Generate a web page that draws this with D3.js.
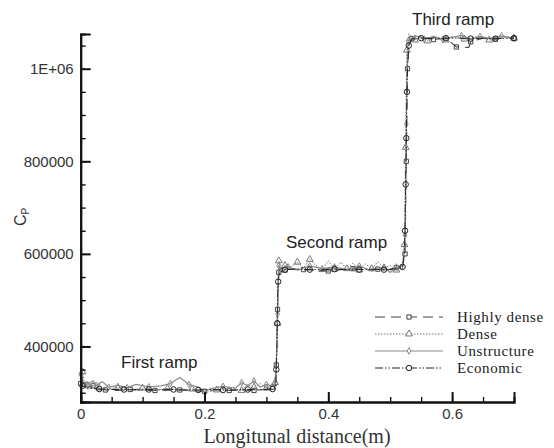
<!DOCTYPE html>
<html>
<head>
<meta charset="utf-8">
<script src="https://cdn.jsdelivr.net/npm/d3@7"></script>
<style>
  body { margin: 0; background: #fff; }
  svg { display: block; }
</style>
</head>
<body>
<svg id="chart" width="554" height="448"></svg>
<script>
// values: [x in m, Cp]
const xTicks = [0, 0.2, 0.4, 0.6]
const yTicks = [400000, 600000, 800000, 1000000]
const seriesNames = ['Highly dense', 'Dense', 'Unstructure', 'Economic']
const rampLabels = ['First ramp', 'Second ramp', 'Third ramp']

const highlyDense = [
  [0, 320000], [0.002, 335000], [0.005, 318000], [0.01, 312000], [0.02, 315000],
  [0.03, 308000], [0.04, 306000], [0.06, 305000], [0.08, 307000], [0.1, 306000],
  [0.12, 305000], [0.14, 308000], [0.16, 306000], [0.18, 305000], [0.2, 303000],
  [0.22, 307000], [0.24, 305000], [0.26, 306000], [0.28, 305000], [0.3, 308000],
  [0.31, 312000], [0.314, 318000],
  [0.316, 360000], [0.317, 420000], [0.318, 480000], [0.319, 530000], [0.32, 560000],
  [0.322, 570000], [0.33, 565000], [0.34, 568000], [0.36, 566000], [0.38, 565000],
  [0.4, 563000], [0.42, 566000], [0.44, 568000], [0.46, 565000], [0.48, 567000],
  [0.5, 566000], [0.51, 570000], [0.52, 575000],
  [0.524, 600000], [0.525, 700000], [0.526, 800000], [0.527, 900000], [0.528, 1000000],
  [0.53, 1050000], [0.535, 1065000], [0.55, 1068000], [0.57, 1063000], [0.59, 1066000],
  [0.607, 1047000], [0.627, 1046000], [0.63, 1058000], [0.65, 1066000], [0.67, 1064000],
  [0.69, 1067000], [0.7, 1065000]
]

const dense = [
  [0, 330000], [0.003, 345000], [0.006, 320000], [0.012, 315000], [0.02, 322000],
  [0.03, 310000], [0.045, 308000], [0.06, 312000], [0.08, 306000], [0.1, 310000],
  [0.12, 306000], [0.14, 309000], [0.16, 305000], [0.18, 308000], [0.2, 300000],
  [0.22, 306000], [0.24, 310000], [0.26, 305000], [0.27, 318000], [0.28, 312000],
  [0.29, 320000], [0.3, 310000], [0.31, 316000], [0.314, 322000],
  [0.316, 380000], [0.318, 450000], [0.319, 520000], [0.32, 585000], [0.323, 565000],
  [0.33, 575000], [0.34, 572000], [0.35, 582000], [0.36, 570000], [0.37, 588000],
  [0.38, 575000], [0.39, 566000], [0.4, 585000], [0.41, 567000], [0.42, 582000],
  [0.43, 568000], [0.44, 580000], [0.45, 565000], [0.46, 578000], [0.47, 568000],
  [0.48, 583000], [0.49, 570000], [0.5, 575000], [0.51, 565000], [0.52, 578000],
  [0.523, 620000], [0.524, 720000], [0.525, 830000], [0.526, 950000], [0.527, 1040000],
  [0.53, 1075000], [0.54, 1062000], [0.55, 1070000], [0.56, 1060000], [0.575, 1068000],
  [0.59, 1062000], [0.6, 1070000], [0.62, 1064000], [0.64, 1069000], [0.66, 1062000],
  [0.68, 1068000], [0.7, 1066000]
]

const unstructure = [
  [0, 340000], [0.004, 322000], [0.01, 318000], [0.02, 326000], [0.025, 316000],
  [0.035, 324000], [0.045, 312000], [0.06, 316000], [0.075, 311000], [0.09, 318000],
  [0.11, 313000], [0.13, 315000], [0.145, 320000], [0.16, 333000], [0.175, 318000],
  [0.19, 312000], [0.2, 302000], [0.21, 309000], [0.23, 314000], [0.25, 310000],
  [0.26, 322000], [0.27, 315000], [0.28, 326000], [0.29, 312000], [0.3, 318000],
  [0.31, 314000], [0.315, 320000],
  [0.317, 400000], [0.318, 470000], [0.319, 540000], [0.32, 575000], [0.325, 560000],
  [0.335, 572000], [0.35, 565000], [0.37, 574000], [0.39, 568000], [0.41, 572000],
  [0.43, 566000], [0.45, 574000], [0.47, 563000], [0.49, 570000], [0.5, 560000],
  [0.51, 572000], [0.52, 566000],
  [0.524, 640000], [0.525, 760000], [0.526, 880000], [0.527, 990000], [0.529, 1060000],
  [0.54, 1072000], [0.555, 1064000], [0.57, 1070000], [0.585, 1063000], [0.6, 1068000],
  [0.615, 1072000], [0.63, 1064000], [0.645, 1070000], [0.66, 1065000], [0.68, 1071000],
  [0.7, 1066000]
]

const economic = [
  [0, 325000], [0.003, 315000], [0.01, 310000], [0.03, 308000], [0.05, 307000],
  [0.07, 307000], [0.09, 306000], [0.11, 307000], [0.13, 306000], [0.15, 307000],
  [0.17, 306000], [0.19, 306000], [0.21, 307000], [0.23, 306000], [0.25, 306000],
  [0.27, 307000], [0.29, 306000], [0.31, 308000], [0.315, 312000],
  [0.316, 350000], [0.317, 400000], [0.3175, 450000], [0.318, 500000], [0.319, 540000],
  [0.321, 560000], [0.33, 566000], [0.35, 567000], [0.37, 566000], [0.39, 566000],
  [0.41, 567000], [0.43, 566000], [0.45, 566000], [0.47, 567000], [0.49, 566000],
  [0.51, 568000], [0.52, 572000],
  [0.523, 600000], [0.524, 650000], [0.5245, 700000], [0.525, 750000], [0.5255, 800000],
  [0.526, 850000], [0.5265, 900000], [0.527, 950000], [0.528, 1000000], [0.53, 1050000],
  [0.535, 1064000], [0.55, 1066000], [0.57, 1065000], [0.59, 1066000], [0.61, 1066000],
  [0.63, 1065000], [0.65, 1066000], [0.67, 1065000], [0.69, 1066000], [0.7, 1066000]
]

window.addEventListener('load', makeChart)

function makeChart() {
  const svg = d3.select('#chart')

  const scX = d3.scaleLinear().domain([0, 0.7]).range([80.7, 514])
  const scY = d3.scaleLinear().domain([280000, 1075000]).range([402, 34])

  const styles = [
    { color: '#444', dash: '10,6', width: 1.1, symbol: d3.symbolSquare, size: 18 },
    { color: '#777', dash: '1.5,1.5', width: 1, symbol: d3.symbolTriangle, size: 20 },
    { color: '#8a8a8a', dash: null, width: 1.2, symbol: d3.symbolDiamond, size: 12 },
    { color: '#222', dash: '8,2,1.5,2,1.5,2', width: 1, symbol: d3.symbolCircle, size: 24 },
  ]
  const allSeries = [highlyDense, dense, unstructure, economic]

  const line = d3
    .line()
    .x((d) => scX(d[0]))
    .y((d) => scY(d[1]))

  allSeries.forEach((data, k) => {
    const st = styles[k]
    svg
      .append('path')
      .datum(data)
      .attr('d', line)
      .attr('fill', 'none')
      .attr('stroke', st.color)
      .attr('stroke-width', st.width)
      .attr('stroke-dasharray', st.dash)

    svg
      .append('g')
      .selectAll('path')
      .data(data.filter((d, i) => i % 2 === k % 2))
      .enter()
      .append('path')
      .attr('d', d3.symbol().type(st.symbol).size(st.size))
      .attr('transform', (d) => `translate(${scX(d[0])},${scY(d[1])})`)
      .attr('fill', 'none')
      .attr('stroke', st.color)
      .attr('stroke-width', 1)
  })

  // axes, ticks point inward
  const fmtY = (d) => (d >= 1000000 ? '1E+06' : d3.format('d')(d))

  const axY = svg.append('g').attr('transform', 'translate(80.7,0)')
  axY
    .call(d3.axisLeft(scY).tickValues(d3.range(300000, 1075000, 50000)).tickSize(-5).tickFormat(''))
  axY.call((g) => g.selectAll('.tick line').attr('stroke-width', 1.3))
  const axY2 = svg.append('g').attr('transform', 'translate(80.7,0)')
  axY2.call(d3.axisLeft(scY).tickValues(yTicks).tickSize(-10).tickPadding(7).tickFormat(fmtY))

  const axX = svg.append('g').attr('transform', 'translate(0,402)')
  axX.call(d3.axisBottom(scX).tickValues(d3.range(0.05, 0.7, 0.05)).tickSize(-5).tickFormat(''))
  axX.call((g) => g.selectAll('.tick line').attr('stroke-width', 1.3))
  const axX2 = svg.append('g').attr('transform', 'translate(0,402)')
  axX2.call(d3.axisBottom(scX).tickValues(xTicks).tickSize(-10).tickPadding(6).tickFormat(d3.format('')))

  svg.selectAll('.domain').attr('stroke', '#111').attr('stroke-width', 2)
  axY2.selectAll('.tick line').attr('stroke', '#111').attr('stroke-width', 2)
  axX2.selectAll('.tick line').attr('stroke', '#111').attr('stroke-width', 2)
  svg
    .selectAll('.tick text')
    .attr('font-family', 'Liberation Sans, Arial, sans-serif')
    .attr('font-size', 15)
    .attr('fill', '#333')

  // axis titles
  svg
    .append('text')
    .attr('x', 297)
    .attr('y', 443)
    .attr('text-anchor', 'middle')
    .attr('font-family', 'Liberation Serif, serif')
    .attr('font-size', 20)
    .attr('fill', '#333')
    .text('Longitunal distance(m)')

  const yl = svg
    .append('text')
    .attr('transform', 'translate(26,226) rotate(-90)')
    .attr('font-family', 'Liberation Sans, Arial, sans-serif')
    .attr('font-size', 16)
    .attr('fill', '#333')
  yl.append('tspan').text('C')
  yl.append('tspan').attr('font-size', 10).attr('dy', 3).text('P')

  // ramp labels
  const rampPos = [
    [121, 368],
    [286, 248],
    [412, 25],
  ]
  svg
    .selectAll('text.ramp')
    .data(rampLabels)
    .enter()
    .append('text')
    .attr('class', 'ramp')
    .attr('x', (d, i) => rampPos[i][0])
    .attr('y', (d, i) => rampPos[i][1])
    .attr('font-family', 'Liberation Sans, Arial, sans-serif')
    .attr('font-size', 17)
    .attr('fill', '#222')
    .text((d) => d)

  // legend
  const lg = svg
    .append('g')
    .selectAll('g')
    .data(seriesNames)
    .enter()
    .append('g')
    .attr('transform', (d, i) => `translate(0,${317 + i * 17})`)

  lg.append('line')
    .attr('x1', 375)
    .attr('x2', 443)
    .attr('stroke', (d, i) => styles[i].color)
    .attr('stroke-width', (d, i) => styles[i].width)
    .attr('stroke-dasharray', (d, i) => styles[i].dash)
  lg.append('path')
    .attr('transform', 'translate(409,0)')
    .attr('d', (d, i) => d3.symbol().type(styles[i].symbol).size(styles[i].size)())
    .attr('fill', '#fff')
    .attr('stroke', (d, i) => styles[i].color)
  lg.append('text')
    .attr('x', 457)
    .attr('dy', '0.35em')
    .attr('font-family', 'Liberation Serif, serif')
    .attr('font-size', 15)
    .attr('letter-spacing', 0.6)
    .attr('fill', '#222')
    .text((d) => d)
}
</script>
</body>
</html>
